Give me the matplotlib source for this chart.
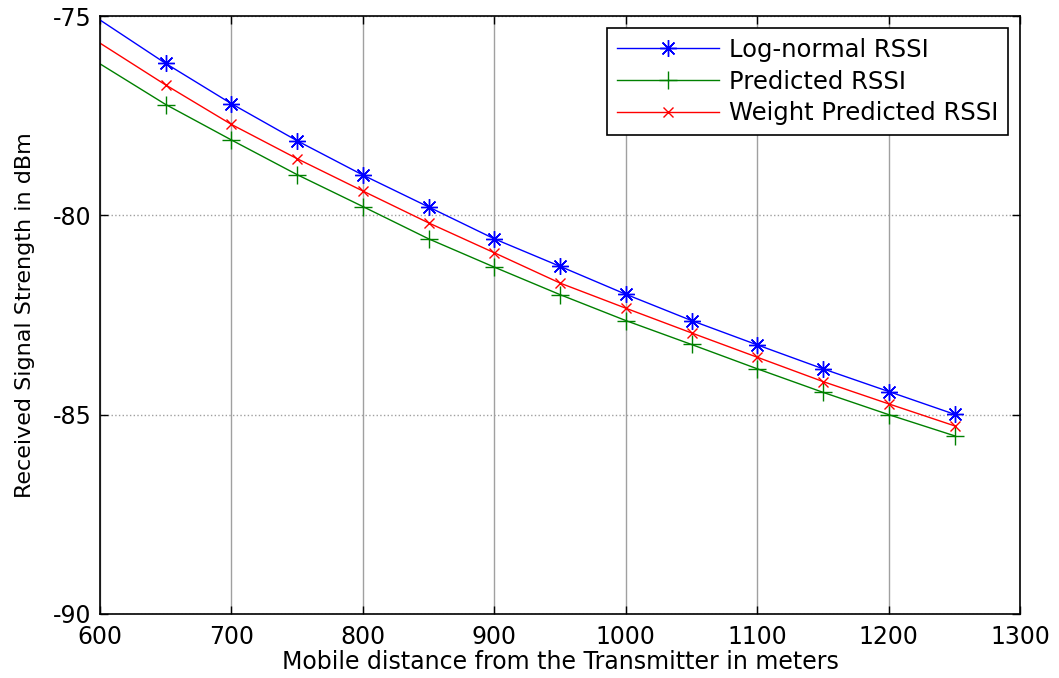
import numpy as np
import matplotlib.pyplot as plt

# ----------------------------
# Data
# ----------------------------
distance = [600, 650, 700, 750, 800, 850, 900, 950, 1000, 1050, 1100, 1150, 1200, 1250]

lognormal_rssi = [-75.10, -76.19, -77.20, -78.13, -78.99, -79.79, -80.59, -81.28,
                  -81.98, -82.64, -83.25, -83.85, -84.42, -84.99]
predicted_rssi = [-76.20, -77.22, -78.11, -78.98, -79.78, -80.59, -81.30, -81.99,
                  -82.64, -83.24, -83.85, -84.44, -85.00, -85.53]
weight_rssi = [-75.68, -76.73, -77.72, -78.58, -79.39, -80.19, -80.94, -81.70,
               -82.33, -82.95, -83.56, -84.17, -84.73, -85.28]

xticks = [600, 700, 800, 900, 1000, 1100, 1200, 1300]
yticks = [-90, -85, -80, -75]

plt.rcParams['font.family'] = ['DejaVu Sans']
plt.rcParams['axes.unicode_minus'] = False

fig = plt.figure(figsize=(10.59, 6.78), dpi=100)
ax = fig.add_axes([0.0944, 0.0944, 0.869, 0.882])

ax.plot(distance, lognormal_rssi, color='blue', lw=1, marker=(8, 2, 0), ms=12,
        mew=1, markevery=slice(1, None), label='Log-normal RSSI')
ax.plot(distance, predicted_rssi, color='green', lw=1, marker='+', ms=13,
        mew=1, markevery=slice(1, None), label='Predicted RSSI')
ax.plot(distance, weight_rssi, color='red', lw=1, marker='x', ms=7,
        mew=1, markevery=slice(1, None), label='Weight Predicted RSSI')

ax.set_xlim(600, 1300)
ax.set_ylim(-90, -75)
ax.set_xticks(xticks)
ax.set_yticks(yticks)
ax.tick_params(direction='in', top=True, right=True, labelsize=17, length=6, width=1)
ax.tick_params(axis='x', pad=8)
ax.tick_params(axis='y', pad=6)

ax.xaxis.grid(True, color='#a0a0a0', lw=1, ls='-')
ax.yaxis.grid(True, color='#a0a0a0', lw=1, ls=':')
ax.set_axisbelow(True)
for sp in ax.spines.values():
    sp.set_linewidth(1.2)

ax.set_xlabel('Mobile distance from the Transmitter in meters', fontsize=17, labelpad=1)
ax.set_ylabel('Received Signal Strength in dBm', fontsize=16, labelpad=13)

leg = ax.legend(loc='upper right', fontsize=17.5, fancybox=False, framealpha=1,
                edgecolor='black', borderaxespad=0.5, handlelength=4.2,
                handletextpad=0.4, labelspacing=0.32, borderpad=0.4)
leg.get_frame().set_linewidth(1.2)

fig.savefig('out.png', dpi=100)
